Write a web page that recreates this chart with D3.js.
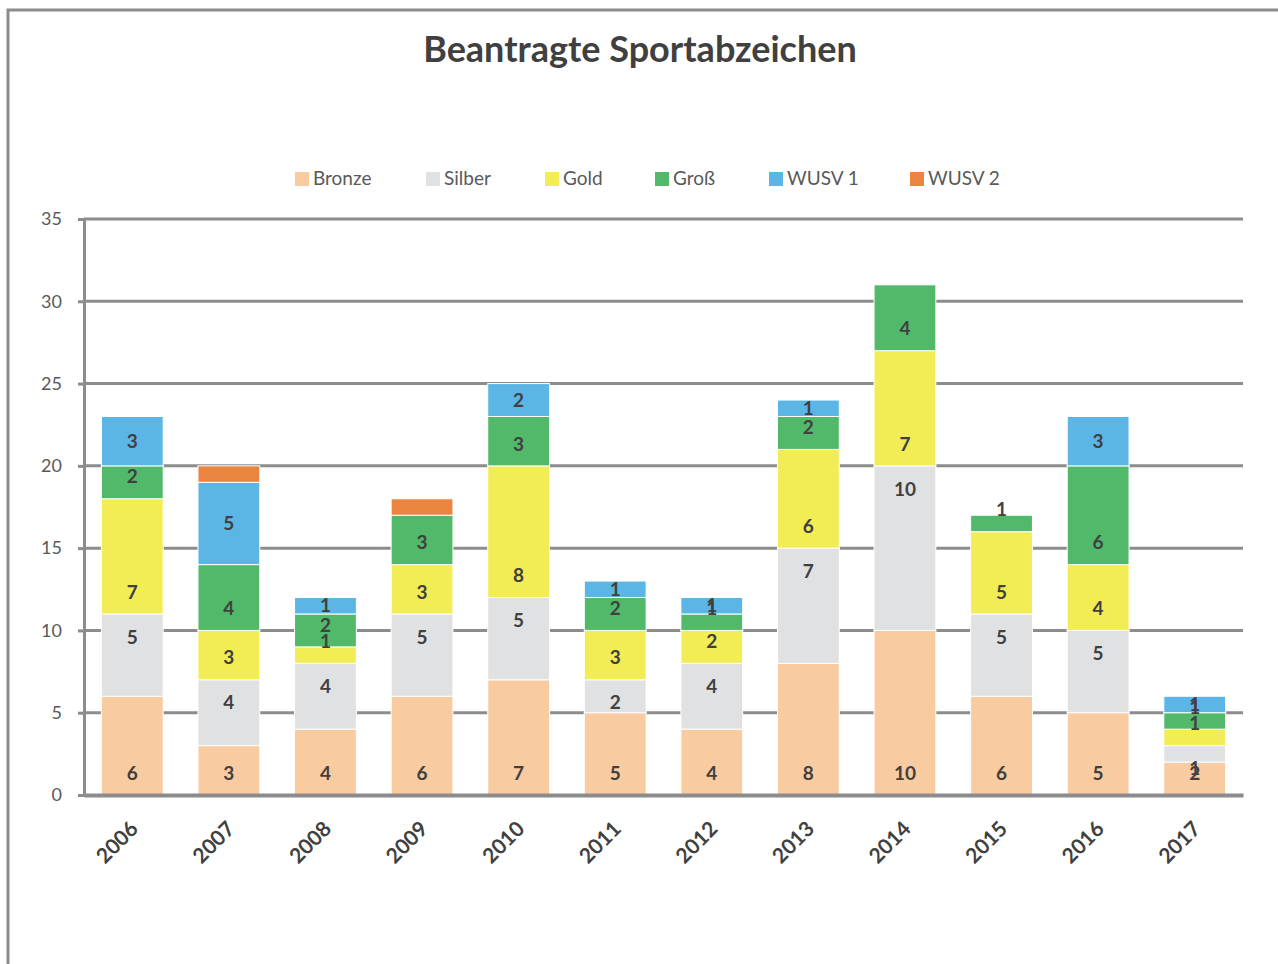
<!DOCTYPE html>
<html>
<head>
<meta charset="utf-8">
<script src="https://cdn.jsdelivr.net/npm/d3@7"></script>
<style>
  body { margin: 0; background: #fff; }
  text { font-family: Lato, "Open Sans", sans-serif; }
</style>
</head>
<body>
<div id="chart"></div>
<script>
const years = ["2006", "2007", "2008", "2009", "2010", "2011", "2012", "2013", "2014", "2015", "2016", "2017"];
const seriesNames = ["Bronze", "Silber", "Gold", "Groß", "WUSV 1", "WUSV 2"];
const bronze = [6, 3, 4, 6, 7, 5, 4, 8, 10, 6, 5, 2];
const silber = [5, 4, 4, 5, 5, 2, 4, 7, 10, 5, 5, 1];
const gold = [7, 3, 1, 3, 8, 3, 2, 6, 7, 5, 4, 1];
const gross = [2, 4, 2, 3, 3, 2, 1, 2, 4, 1, 6, 1];
const wusv1 = [3, 5, 1, 0, 2, 1, 1, 1, 0, 0, 3, 1];
const wusv2 = [0, 1, 0, 1, 0, 0, 0, 0, 0, 0, 0, 0];
const yTicks = [0, 5, 10, 15, 20, 25, 30, 35];

const colors = ["#F8CBA0", "#E0E1E3", "#F2EC55", "#52B96A", "#5BB6E6", "#EA843F"];
// where the value label sits in each segment (as in the original sheet)
const labelModes = ["base", "end", "base", "base", "center", "none"];
const legendX = [295, 426, 545, 655, 769, 910];

const W = 1278, H = 964;
const margin = { top: 219, left: 84, right: 35, bottom: 169 };
const width = W - margin.left - margin.right;
const height = H - margin.top - margin.bottom;

const svg = d3.select("#chart").append("svg")
  .attr("width", W).attr("height", H);

// outer frame
svg.append("path")
  .attr("d", `M8,${H} L8,10 L${W},10`)
  .attr("fill", "none").attr("stroke", "#8c8c8c").attr("stroke-width", 3);

svg.append("text")
  .attr("x", 640).attr("y", 62)
  .attr("text-anchor", "middle")
  .attr("font-size", 36).attr("font-weight", "bold")
  .attr("fill", "#404040")
  .text("Beantragte Sportabzeichen");

// legend
const legend = svg.append("g");
seriesNames.forEach((name, i) => {
  legend.append("rect")
    .attr("x", legendX[i]).attr("y", 172)
    .attr("width", 14).attr("height", 14)
    .attr("fill", colors[i]);
  legend.append("text")
    .attr("x", legendX[i] + 18).attr("y", 185)
    .attr("font-size", 19).attr("fill", "#595959")
    .text(name);
});

const table = years.map((y, i) => ({
  year: y,
  "Bronze": bronze[i], "Silber": silber[i], "Gold": gold[i],
  "Groß": gross[i], "WUSV 1": wusv1[i], "WUSV 2": wusv2[i]
}));
const stacked = d3.stack().keys(seriesNames)(table);

const container = svg.append("g")
  .attr("transform", `translate(${margin.left}, ${margin.top})`);

const xScale = d3.scaleBand().domain(years).range([0, width]).paddingInner(0.36).paddingOuter(0.18);
const yScale = d3.scaleLinear().domain([0, 35]).range([height, 0]);

// gridlines
container.append("g")
  .selectAll("line").data(yTicks.filter(t => t > 0)).join("line")
  .attr("x1", 0).attr("x2", width)
  .attr("y1", d => yScale(d)).attr("y2", d => yScale(d))
  .attr("stroke", "#8c8c8c").attr("stroke-width", 3);

const yAxis = container.append("g")
  .call(d3.axisLeft(yScale).tickValues(yTicks).tickSize(6).tickPadding(16));
yAxis.select(".domain").attr("stroke", "#8c8c8c").attr("stroke-width", 3);
yAxis.selectAll(".tick line").attr("stroke", "#8c8c8c").attr("stroke-width", 3);
yAxis.selectAll(".tick text")
  .attr("font-size", 18).attr("fill", "#595959")
  .style("font-family", "Lato, sans-serif");

// bars
stacked.forEach((layer, si) => {
  const g = container.append("g");
  g.selectAll("rect").data(layer.filter(d => d[1] > d[0])).join("rect")
    .attr("x", d => xScale(d.data.year))
    .attr("width", xScale.bandwidth())
    .attr("y", d => yScale(d[1]))
    .attr("height", d => yScale(d[0]) - yScale(d[1]))
    .attr("fill", colors[si])
    .attr("stroke", "#ffffff").attr("stroke-width", 1);
});

// value labels
stacked.forEach((layer, si) => {
  const mode = labelModes[si];
  if (mode === "none") return;
  container.append("g")
    .selectAll("text").data(layer.filter(d => d[1] > d[0])).join("text")
    .attr("x", d => xScale(d.data.year) + xScale.bandwidth() / 2)
    .attr("y", d => {
      if (mode === "base") return yScale(d[0]) - 22;
      if (mode === "end") return yScale(d[1]) + 23;
      return (yScale(d[0]) + yScale(d[1])) / 2;
    })
    .attr("dy", "0.35em")
    .attr("text-anchor", "middle")
    .attr("font-size", 19).attr("font-weight", "bold")
    .attr("fill", "#404040")
    .text(d => d[1] - d[0]);
});

// x axis
const xAxis = container.append("g")
  .attr("transform", `translate(0, ${height})`)
  .call(d3.axisBottom(xScale).tickSize(0).tickPadding(0));
xAxis.select(".domain").attr("stroke", "#8c8c8c").attr("stroke-width", 4);
xAxis.selectAll(".tick text")
  .attr("font-size", 21).attr("font-weight", "bold").attr("fill", "#404040")
  .style("font-family", "Lato, sans-serif")
  .attr("text-anchor", "end")
  .attr("dy", "0.35em")
  .attr("transform", "translate(2, 30) rotate(-45)");
</script>
</body>
</html>
